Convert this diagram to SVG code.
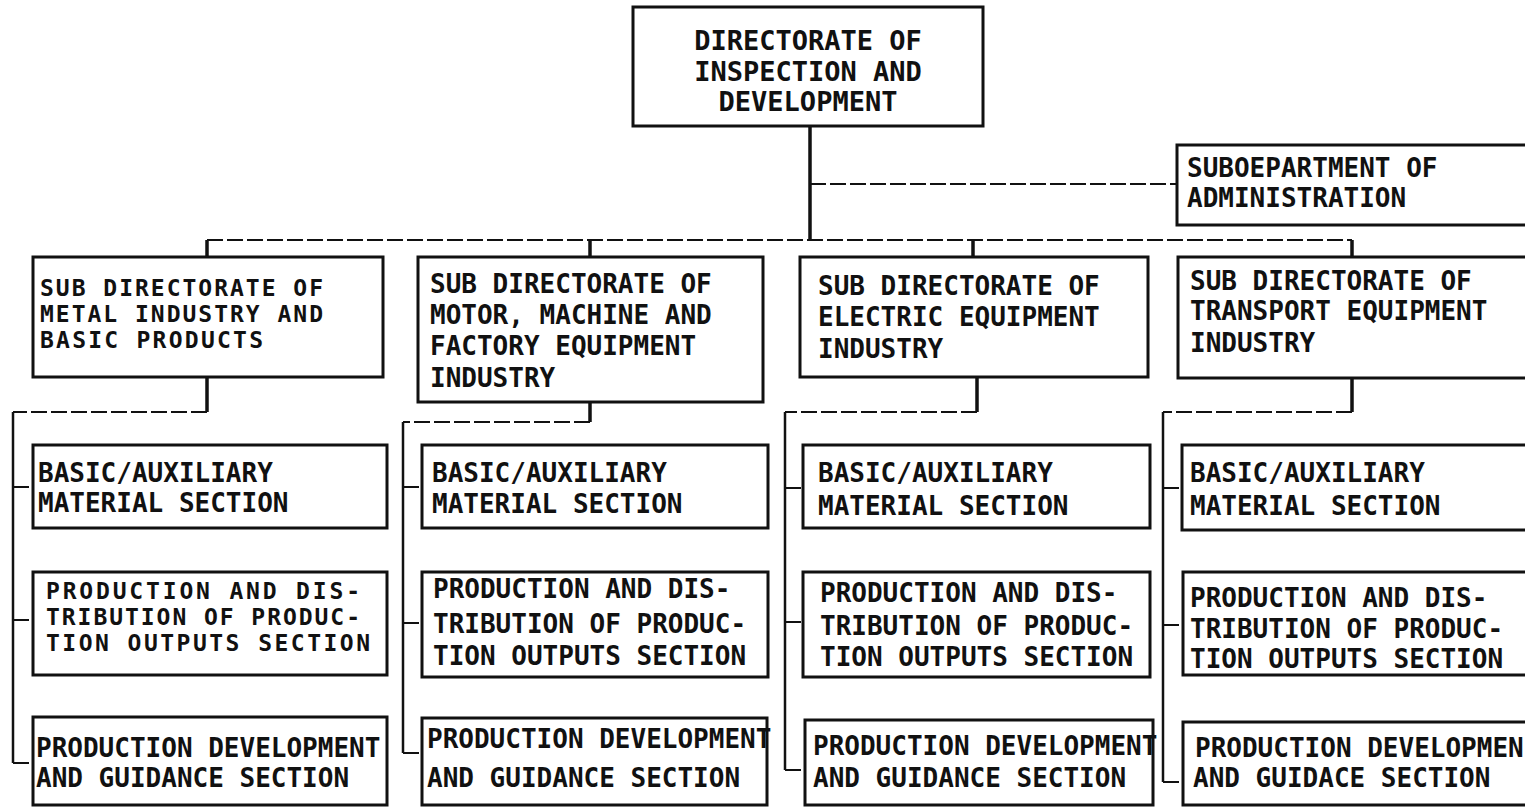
<svg xmlns="http://www.w3.org/2000/svg" width="1525" height="808" viewBox="0 0 1525 808">
<style>
.box{fill:#fff;stroke:#111;stroke-width:3}
.t{font-family:"DejaVu Sans Mono","Liberation Mono",monospace;font-weight:bold;font-size:26px;fill:#111}
.s{font-size:23px}
.tc{text-anchor:middle;font-size:27px}
.v{stroke:#111;stroke-width:3.5;fill:none}
.bus{stroke:#111;stroke-width:2.5;fill:none}
.h{stroke:#111;stroke-width:2;fill:none;stroke-dasharray:16 4}
</style>
<rect width="1525" height="808" fill="#fff"/>
<g id="connectors">
<line class="v" x1="810" y1="126" x2="810" y2="240"/>
<line class="h" x1="810" y1="184" x2="1177" y2="184"/>
<line class="h" x1="207" y1="240" x2="1352" y2="240"/>
<line class="v" x1="207" y1="240" x2="207" y2="257"/>
<line class="v" x1="590" y1="240" x2="590" y2="257"/>
<line class="v" x1="973" y1="240" x2="973" y2="257"/>
<line class="v" x1="1352" y1="240" x2="1352" y2="257"/>
<line class="v" x1="207" y1="377" x2="207" y2="412"/>
<line class="h" x1="207" y1="412" x2="13" y2="412"/>
<line class="bus" x1="13" y1="412" x2="13" y2="763"/>
<line class="h" x1="13" y1="487" x2="33" y2="487"/>
<line class="h" x1="13" y1="620" x2="33" y2="620"/>
<line class="h" x1="13" y1="763" x2="33" y2="763"/>
<line class="v" x1="590" y1="402" x2="590" y2="422"/>
<line class="h" x1="590" y1="422" x2="403" y2="422"/>
<line class="bus" x1="403" y1="422" x2="403" y2="753"/>
<line class="h" x1="403" y1="487" x2="422" y2="487"/>
<line class="h" x1="403" y1="623" x2="422" y2="623"/>
<line class="h" x1="403" y1="753" x2="422" y2="753"/>
<line class="v" x1="977" y1="377" x2="977" y2="412"/>
<line class="h" x1="977" y1="412" x2="785" y2="412"/>
<line class="bus" x1="785" y1="412" x2="785" y2="770"/>
<line class="h" x1="785" y1="488" x2="803" y2="488"/>
<line class="h" x1="785" y1="622" x2="803" y2="622"/>
<line class="h" x1="785" y1="770" x2="805" y2="770"/>
<line class="v" x1="1352" y1="378" x2="1352" y2="412"/>
<line class="h" x1="1352" y1="412" x2="1163" y2="412"/>
<line class="bus" x1="1163" y1="412" x2="1163" y2="782"/>
<line class="h" x1="1163" y1="488" x2="1182" y2="488"/>
<line class="h" x1="1163" y1="625" x2="1183" y2="625"/>
<line class="h" x1="1163" y1="782" x2="1183" y2="782"/>
</g>
<g id="directorate">
<rect class="box" x="633" y="7" width="350" height="119"/>
<text class="t tc" x="808" y="50">DIRECTORATE OF</text>
<text class="t tc" x="808" y="81">INSPECTION AND</text>
<text class="t tc" x="808" y="111">DEVELOPMENT</text>
</g>
<g id="subdept-admin">
<rect class="box" x="1177" y="145" width="360" height="80"/>
<text class="t" x="1187" y="177">SUBOEPARTMENT OF</text>
<text class="t" x="1187" y="207">ADMINISTRATION</text>
</g>
<g id="sd-metal">
<rect class="box" x="33" y="257" width="350" height="120"/>
<text class="t s" x="40" y="296" textLength="283">SUB DIRECTORATE OF</text>
<text class="t s" x="40" y="322" textLength="283">METAL INDUSTRY AND</text>
<text class="t s" x="40" y="348" textLength="223">BASIC PRODUCTS</text>
</g>
<g id="sd-motor">
<rect class="box" x="418" y="257" width="345" height="145"/>
<text class="t" x="430" y="293">SUB DIRECTORATE OF</text>
<text class="t" x="430" y="324">MOTOR, MACHINE AND</text>
<text class="t" x="430" y="355">FACTORY EQUIPMENT</text>
<text class="t" x="430" y="387">INDUSTRY</text>
</g>
<g id="sd-electric">
<rect class="box" x="800" y="257" width="348" height="120"/>
<text class="t" x="818" y="295">SUB DIRECTORATE OF</text>
<text class="t" x="818" y="326">ELECTRIC EQUIPMENT</text>
<text class="t" x="818" y="358">INDUSTRY</text>
</g>
<g id="sd-transport">
<rect class="box" x="1178" y="257" width="360" height="121"/>
<text class="t" x="1190" y="290">SUB DIRECTORATE OF</text>
<text class="t" x="1190" y="320">TRANSPORT EQUIPMENT</text>
<text class="t" x="1190" y="352">INDUSTRY</text>
</g>
<g id="c1-basic">
<rect class="box" x="33" y="445" width="354" height="83"/>
<text class="t" x="38" y="482">BASIC/AUXILIARY</text>
<text class="t" x="38" y="512">MATERIAL SECTION</text>
</g>
<g id="c1-prod">
<rect class="box" x="33" y="572" width="354" height="103"/>
<text class="t s" x="46" y="599" textLength="314">PRODUCTION AND DIS-</text>
<text class="t s" x="46" y="625" textLength="314">TRIBUTION OF PRODUC-</text>
<text class="t s" x="46" y="651" textLength="324">TION OUTPUTS SECTION</text>
</g>
<g id="c1-dev">
<rect class="box" x="33" y="717" width="354" height="88"/>
<text class="t" x="36" y="757">PRODUCTION DEVELOPMENT</text>
<text class="t" x="36" y="787">AND GUIDANCE SECTION</text>
</g>
<g id="c2-basic">
<rect class="box" x="422" y="445" width="346" height="83"/>
<text class="t" x="432" y="482">BASIC/AUXILIARY</text>
<text class="t" x="432" y="513">MATERIAL SECTION</text>
</g>
<g id="c2-prod">
<rect class="box" x="422" y="572" width="346" height="105"/>
<text class="t" x="433" y="598">PRODUCTION AND DIS-</text>
<text class="t" x="433" y="633">TRIBUTION OF PRODUC-</text>
<text class="t" x="433" y="665">TION OUTPUTS SECTION</text>
</g>
<g id="c2-dev">
<rect class="box" x="422" y="718" width="345" height="87"/>
<text class="t" x="427" y="748">PRODUCTION DEVELOPMENT</text>
<text class="t" x="427" y="787">AND GUIDANCE SECTION</text>
</g>
<g id="c3-basic">
<rect class="box" x="803" y="445" width="347" height="83"/>
<text class="t" x="818" y="482">BASIC/AUXILIARY</text>
<text class="t" x="818" y="515">MATERIAL SECTION</text>
</g>
<g id="c3-prod">
<rect class="box" x="803" y="572" width="347" height="105"/>
<text class="t" x="820" y="602">PRODUCTION AND DIS-</text>
<text class="t" x="820" y="635">TRIBUTION OF PRODUC-</text>
<text class="t" x="820" y="666">TION OUTPUTS SECTION</text>
</g>
<g id="c3-dev">
<rect class="box" x="805" y="720" width="348" height="85"/>
<text class="t" x="813" y="755">PRODUCTION DEVELOPMENT</text>
<text class="t" x="813" y="787">AND GUIDANCE SECTION</text>
</g>
<g id="c4-basic">
<rect class="box" x="1182" y="445" width="360" height="85"/>
<text class="t" x="1190" y="482">BASIC/AUXILIARY</text>
<text class="t" x="1190" y="515">MATERIAL SECTION</text>
</g>
<g id="c4-prod">
<rect class="box" x="1183" y="572" width="360" height="103"/>
<text class="t" x="1190" y="607">PRODUCTION AND DIS-</text>
<text class="t" x="1190" y="638">TRIBUTION OF PRODUC-</text>
<text class="t" x="1190" y="668">TION OUTPUTS SECTION</text>
</g>
<g id="c4-dev">
<rect class="box" x="1183" y="722" width="360" height="83"/>
<text class="t" x="1195" y="757">PRODUCTION DEVELOPMEN</text>
<text class="t" x="1193" y="787">AND GUIDACE SECTION</text>
</g>
</svg>
